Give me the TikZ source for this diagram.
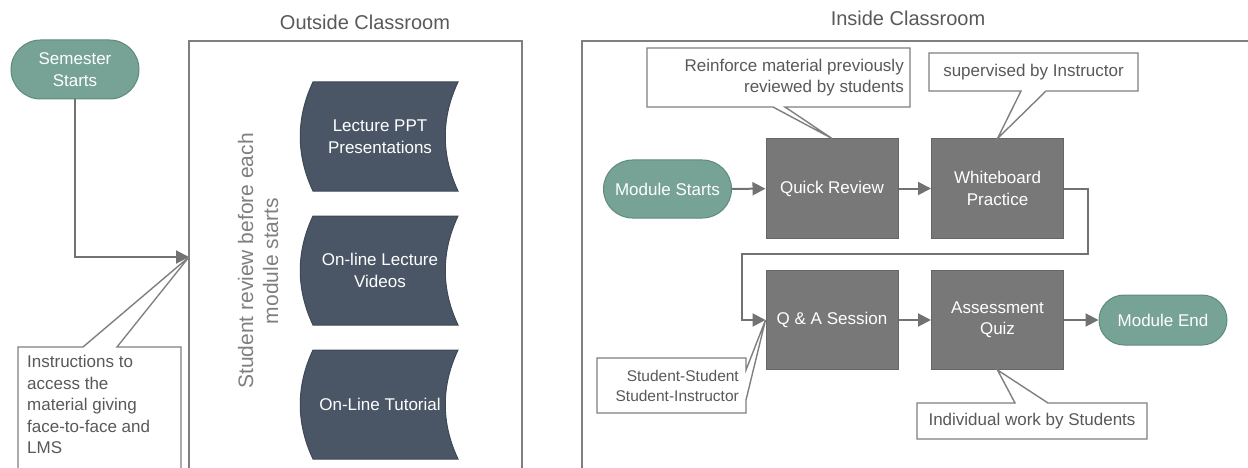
\documentclass[tikz,border=0pt]{standalone}
\usepackage{fontspec}
\setmainfont{Liberation Sans}
\usetikzlibrary{arrows.meta,shapes.misc}

\definecolor{sage}{HTML}{76A396}
\definecolor{sageline}{HTML}{5E8B7E}
\definecolor{slate}{HTML}{4A5666}
\definecolor{slateline}{HTML}{3E4856}
\definecolor{stepgray}{HTML}{787878}
\definecolor{framegray}{HTML}{7F7F7F}
\definecolor{notegray}{HTML}{595959}

\tikzset{
  terminal/.style={rounded rectangle, draw=sageline, line width=1pt, fill=sage, text=white,
    minimum width=132pt, minimum height=58pt, align=center, inner sep=2pt,
    font=\fontsize{17}{21.5}\selectfont},
  stepbox/.style={draw=stepgray!85!black, line width=1pt, fill=stepgray, text=white,
    minimum width=132pt, minimum height=99pt, align=center, inner sep=2pt,
    font=\fontsize{17}{21.5}\selectfont},
  media/.style={draw=slateline, line width=1pt, fill=slate},
  flow/.style={draw=framegray!90!black, line width=2pt,
    -{Triangle[length=13pt,width=13pt]}},
  frame/.style={draw=framegray, line width=1.6pt},
  notebox/.style={draw=framegray, line width=1.4pt, fill=white, line join=miter},
  note/.style={text=notegray, inner sep=0pt, font=\fontsize{17}{21.5}\selectfont},
  title/.style={text=notegray, inner sep=0pt, font=\fontsize{20}{24}\selectfont},
}

\begin{document}
\begin{tikzpicture}[x=1pt,y=-1pt]
\useasboundingbox (0,0) rectangle (1248,468);

% the two areas
\draw[frame] (189,41) rectangle (522,480);
\draw[frame] (582,41) rectangle (1260,480);
\node[title] (outside) at (365,22) {Outside Classroom};
\node[title] (inside) at (908,18) {Inside Classroom};

% outside classroom
\node[terminal, minimum height=59pt] (ss) at (75,69.5) {Semester\\Starts};
\coordinate (review) at (189,257);
\node[rotate=90, text=framegray, align=center, inner sep=0pt,
  font=\fontsize{21}{25}\selectfont] (reviewtext) at (258,261)
  {Student review before each\\module starts};

\foreach \y/\name/\txt in {82/ppt/{Lecture PPT\\Presentations},
    216/video/{On-line Lecture\\Videos}, 350/tutorial/{On-Line Tutorial}} {
  \draw[media] (313,\y) -- (458,\y)
    .. controls (441,\y+36) and (441,\y+73) .. (458,\y+109) -- (313,\y+109)
    .. controls (296,\y+73) and (296,\y+36) .. cycle;
  \node[text=white, align=center, font=\fontsize{17}{21.5}\selectfont]
    (\name) at (380,\y+54.5) {\txt};
}

\draw[flow] (ss.south) |- (review);

% note on the outside area
\draw[notebox] (18,347) -- (83,347) -- (review) -- (117,347) -- (181,347)
  -- (181,480) -- (18,480) -- cycle;
\node[note, anchor=north west, align=left] (access) at (27,355)
  {Instructions to\\access the\\material giving\\face-to-face and\\LMS};

% inside classroom
\node[terminal] (ms) at (667.5,189) {Module Starts};
\node[stepbox] (qr) at (832,188.5) {Quick Review};
\node[stepbox] (wb) at (997.5,188.5) {Whiteboard\\Practice};
\node[stepbox] (qa) at (832,320) {Q \& A Session};
\node[stepbox] (aq) at (997.5,320) {Assessment\\Quiz};
\node[terminal, minimum height=50pt] (me) at (1163,320) {Module End};

\coordinate (loopR) at (1088,254);
\coordinate (loopL) at (742,254);

\draw[flow] (ms) -- (qr);
\draw[flow] (qr) -- (wb);
\draw[flow] (wb.east) -| (loopR) -- (loopL) |- (qa.west);
\draw[flow] (qa) -- (aq);
\draw[flow] (aq) -- (me);

% notes on the steps
\draw[notebox] (647,48) -- (910,48) -- (910,107) -- (785,107) -- (qr.north)
  -- (773,107) -- (647,107) -- cycle;
\node[note, anchor=east, align=right] (reinforce) at (904,77.5)
  {Reinforce material previously\\reviewed by students};

\draw[notebox] (929,53) -- (1138,53) -- (1138,91) -- (1046,91) -- (wb.north)
  -- (1021,91) -- (929,91) -- cycle;
\node[note] (supervised) at (1033.5,72) {supervised by Instructor};

\draw[notebox] (597,358) -- (746,358) -- (746,370) -- (qa.west) -- (746,400)
  -- (746,413) -- (597,413) -- cycle;
\node[note, anchor=east, align=right, font=\fontsize{15.5}{20}\selectfont]
  (pairs) at (739,385.5) {Student-Student\\Student-Instructor};

\draw[notebox] (917,403) -- (1015,403) -- (aq.south) -- (1048,403) -- (1147,403)
  -- (1147,439) -- (917,439) -- cycle;
\node[note] (individual) at (1032,421) {Individual work by Students};
\end{tikzpicture}
\end{document}
